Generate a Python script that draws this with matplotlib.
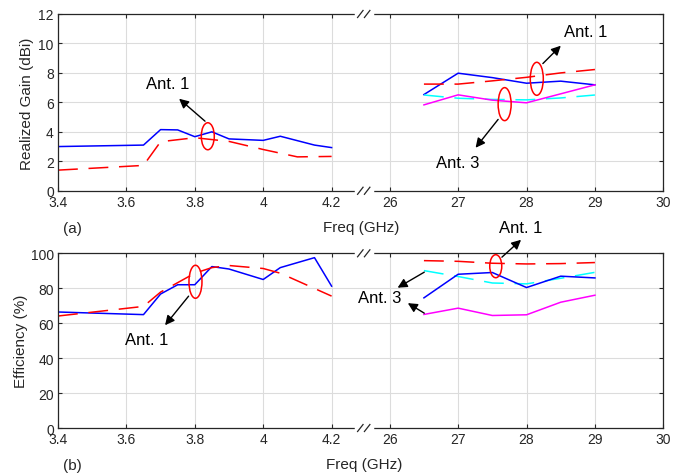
import numpy as np
import matplotlib.pyplot as plt
from matplotlib.patches import Ellipse

plt.rcParams['font.family'] = ['Liberation Sans', 'DejaVu Sans']

# low band (GHz) - realized gain
f_low_a = [3.4, 3.65, 3.7, 3.75, 3.8, 3.85, 3.9, 4.0, 4.05, 4.15, 4.2]
gain_low_solid = [3.0, 3.1, 4.15, 4.13, 3.67, 4.0, 3.52, 3.42, 3.7, 3.1, 2.93]
f_low_b = [3.4, 3.65, 3.7, 3.8, 3.9, 4.0, 4.1, 4.2]
gain_low_dash = [1.4, 1.72, 3.33, 3.6, 3.35, 2.8, 2.3, 2.33]

# high band (GHz)
f_high = [26.5, 27, 27.5, 28, 28.5, 29]
gain_ant1_solid = [6.53, 7.98, 7.68, 7.3, 7.44, 7.19]
gain_ant1_dash = [7.24, 7.24, 7.46, 7.7, 8.0, 8.23]
gain_ant3_dash = [6.5, 6.28, 6.2, 6.17, 6.3, 6.5]
gain_ant3_solid = [5.83, 6.51, 6.15, 5.97, 6.58, 7.19]

# efficiency
f_low_c = [3.4, 3.65, 3.7, 3.75, 3.8, 3.85, 3.9, 4.0, 4.05, 4.15, 4.2]
eff_low_solid = [66.4, 64.9, 76.7, 82, 82, 92.4, 91, 85, 91.8, 97.5, 81.2]
f_low_d = [3.4, 3.65, 3.7, 3.8, 3.85, 3.9, 4.0, 4.05, 4.2]
eff_low_dash = [64.1, 69.6, 77.8, 88.6, 91.8, 93, 91.3, 88.6, 75.5]

eff_ant1_dash = [95.8, 95.4, 94.3, 93.9, 94.1, 94.7]
eff_ant3_dash = [90.1, 86.7, 83, 82.5, 85.7, 89.1]
eff_ant1_solid = [74.5, 88, 89, 80.4, 86.9, 85.9]
eff_ant3_solid = [65, 68.6, 64.4, 64.8, 72, 76]

low_ticks = [3.4, 3.6, 3.8, 4.0, 4.2]
high_ticks = [26, 27, 28, 29, 30]
low_labels = ['3.4', '3.6', '3.8', '4', '4.2']
high_labels = ['26', '27', '28', '29', '30']

HIGH_OFFSET = 4.85   # position of 26 GHz on the compressed axis
BREAK = 4.47

def to_u(f):
    f = np.asarray(f, float)
    return np.where(f < 10, (f - 3.4) / 0.2, f - 26 + HIGH_OFFSET)

DARK = '#262626'
DASH = (13, 7)
LW = 1.1

fig = plt.figure(figsize=(6.83, 4.77), dpi=100)
ax1 = fig.add_axes([0.0849, 0.598, 0.8863, 0.3706])
ax2 = fig.add_axes([0.0849, 0.1006, 0.8863, 0.3663])


def style(ax, ymax, ystep, ylabel, ylab_x):
    ax.set_xlim(0, to_u(30))
    ax.set_ylim(0, ymax)
    ax.set_xticks(np.concatenate([to_u(low_ticks), to_u(high_ticks)]))
    ax.set_xticklabels(low_labels + high_labels)
    ax.set_yticks(np.arange(0, ymax + 1, ystep))
    ax.tick_params(direction='in', length=3, width=0.8, colors=DARK,
                   labelsize=10, pad=3, top=True, right=True)
    for s in ax.spines.values():
        s.set_color(DARK)
        s.set_linewidth(0.9)
    ax.grid(True, color='#dcdcdc', linewidth=0.8)
    ax.set_axisbelow(True)
    ax.set_ylabel(ylabel, fontsize=11, color=DARK)
    ax.yaxis.set_label_coords(ylab_x, 0.5)
    # axis break marks
    for yy in (0, 1):
        ax.plot([BREAK - 0.12, BREAK + 0.12], [yy, yy], color='white', lw=2.5,
                transform=ax.get_xaxis_transform(), clip_on=False, zorder=5)
        for dx in (-0.05, 0.05):
            ax.plot([BREAK + dx - 0.04, BREAK + dx + 0.04], [yy - 0.02, yy + 0.02],
                    color=DARK, lw=0.9, transform=ax.get_xaxis_transform(),
                    clip_on=False, zorder=6)


def ellipse(ax, f, v, w_px, h_px, ymax, hax):
    w = w_px / 68.3
    h = h_px / hax * ymax
    ax.add_patch(Ellipse((float(to_u(f)), v), w, h, fill=False,
                         edgecolor='red', lw=1.1, zorder=4))


def arrow(ax, f0, v0, f1, v1):
    ax.annotate('', xy=(float(to_u(f1)), v1), xytext=(float(to_u(f0)), v0),
                arrowprops=dict(arrowstyle='-|>', color='black', lw=1.0,
                                mutation_scale=14), annotation_clip=False)


def label(ax, f, v, txt):
    ax.text(float(to_u(f)), v, txt, fontsize=12, ha='center', va='center',
            color='black', clip_on=False)


# (a) realized gain
style(ax1, 12, 2, 'Realized Gain (dBi)', -0.040)
ax1.plot(to_u(f_low_a), gain_low_solid, color='blue', lw=LW)
ax1.plot(to_u(f_low_b), gain_low_dash, color='red', lw=LW, dashes=DASH)
ax1.plot(to_u(f_high), gain_ant1_solid, color='blue', lw=LW)
ax1.plot(to_u(f_high), gain_ant1_dash, color='red', lw=LW, dashes=DASH)
ax1.plot(to_u(f_high), gain_ant3_dash, color='cyan', lw=LW, dashes=DASH)
ax1.plot(to_u(f_high), gain_ant3_solid, color='magenta', lw=LW)

ellipse(ax1, 3.838, 3.7, 13, 27, 12, 176.7)
arrow(ax1, 3.836, 4.6, 3.748, 6.37)
label(ax1, 3.72, 7.26, 'Ant. 1')
ellipse(ax1, 28.15, 7.6, 13, 33, 12, 176.7)
arrow(ax1, 28.21, 8.5, 28.53, 9.98)
label(ax1, 28.86, 10.8, 'Ant. 1')
ellipse(ax1, 27.68, 5.88, 13, 33, 12, 176.7)
arrow(ax1, 27.61, 4.99, 27.23, 2.77)
label(ax1, 26.99, 1.95, 'Ant. 3')

# (b) efficiency
style(ax2, 100, 20, 'Efficiency (%)', -0.050)
ax2.plot(to_u(f_low_c), eff_low_solid, color='blue', lw=LW)
ax2.plot(to_u(f_low_d), eff_low_dash, color='red', lw=LW, dashes=DASH)
ax2.plot(to_u(f_high), eff_ant1_dash, color='red', lw=LW, dashes=DASH)
ax2.plot(to_u(f_high), eff_ant3_dash, color='cyan', lw=LW, dashes=DASH)
ax2.plot(to_u(f_high), eff_ant1_solid, color='blue', lw=LW)
ax2.plot(to_u(f_high), eff_ant3_solid, color='magenta', lw=LW)

ellipse(ax2, 3.802, 83.7, 13, 33, 100, 174.7)
arrow(ax2, 3.787, 76.7, 3.708, 57.6)
label(ax2, 3.66, 50.4, 'Ant. 1')
ellipse(ax2, 27.55, 92.6, 12, 23, 100, 174.7)
arrow(ax2, 27.61, 96.7, 27.95, 108.8)
label(ax2, 27.91, 114.5, 'Ant. 1')
label(ax2, 25.86, 74.8, 'Ant. 3')
arrow(ax2, 26.54, 90, 26.08, 79.5)
arrow(ax2, 26.54, 64.9, 26.23, 72.3)

fig.text(0.529, 1 - 228 / 477, 'Freq (GHz)', fontsize=11, ha='center', va='center', color=DARK)
fig.text(0.533, 1 - 465 / 477, 'Freq (GHz)', fontsize=11, ha='center', va='center', color=DARK)
fig.text(72 / 683, 1 - 229 / 477, '(a)', fontsize=11, ha='center', va='center', color=DARK)
fig.text(72 / 683, 1 - 466 / 477, '(b)', fontsize=11, ha='center', va='center', color=DARK)

fig.savefig('out.png', dpi=100)
